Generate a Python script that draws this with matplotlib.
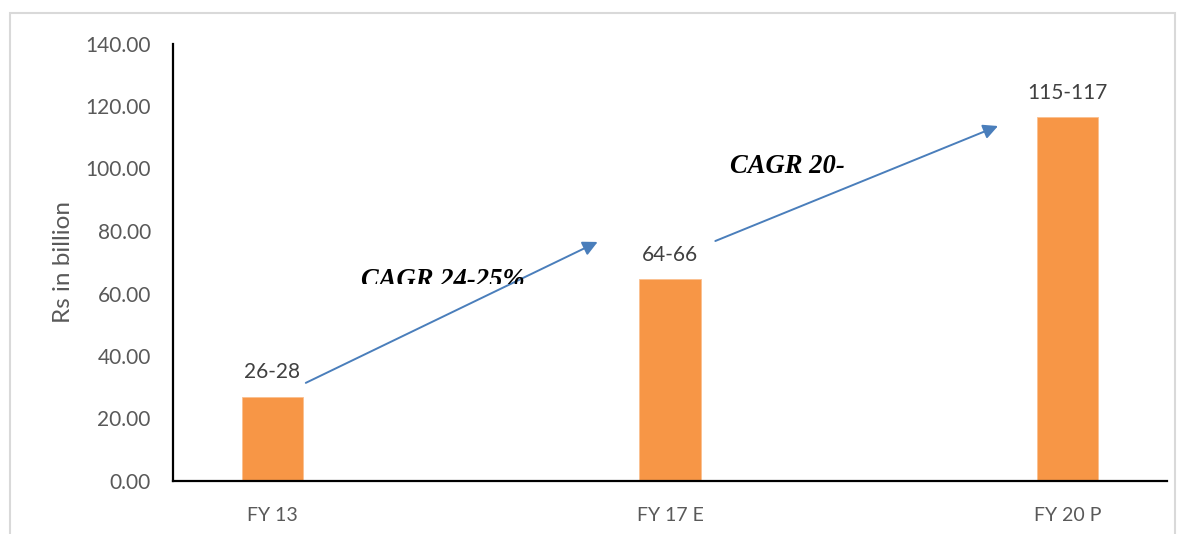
import matplotlib.pyplot as plt
from matplotlib.patches import Rectangle
from matplotlib.transforms import Bbox, TransformedBbox

categories = ['FY 13', 'FY 17 E', 'FY 20 P']
values = [27.0, 64.5, 116.5]
value_labels = ['26-28', '64-66', '115-117']
yticks = [0, 20, 40, 60, 80, 100, 120, 140]

# growth arrows: (start, end) in data units
cagr_texts = ['CAGR 24-25%', 'CAGR 20-']
cagr_arrows = [((0.084, 31.4), (0.818, 76.5)), ((1.114, 76.8), (1.825, 113.6))]
cagr_text_pos = [(0.428, 62.1), (1.295, 98.6)]

label_font = 'Lato'
grey = '#595959'

fig = plt.figure(figsize=(11.82, 5.34), dpi=100)
fig.patches.append(Rectangle((10 / 1182, -0.05), 1165 / 1182, 1.05 - 13 / 534,
                             transform=fig.transFigure, fill=False,
                             edgecolor='#D9D9D9', linewidth=1.5))
ax = fig.add_axes([173 / 1182, 1 - 481 / 534, 994 / 1182, (481 - 43.5) / 534])

x = range(len(categories))
ax.bar(x, values, width=0.155, color='#F79646', edgecolor='#FAC090', linewidth=0.6, zorder=2)

for i, (v, lab) in enumerate(zip(values, value_labels)):
    ax.text(i, v + 4.6, lab, ha='center', va='bottom', fontsize=15,
            color='#404040', family=label_font)

ax.set_xlim(-0.25, 2.25)
ax.set_ylim(0, 140)
ax.set_xticks(list(x))
ax.set_xticklabels(categories, fontsize=14, color=grey, family=label_font)
ax.set_yticks(yticks)
ax.set_yticklabels([f'{t:.2f}' for t in yticks], fontsize=15, color=grey, family=label_font)
ax.tick_params(axis='y', length=0, pad=16)
ax.tick_params(axis='x', length=0, pad=19)
ax.set_ylabel('Rs in billion', fontsize=17.5, color=grey, family=label_font, labelpad=8)

for s in ['top', 'right']:
    ax.spines[s].set_visible(False)
for s in ['left', 'bottom']:
    ax.spines[s].set_linewidth(1.6)
    ax.spines[s].set_color('black')

for (start, end) in cagr_arrows:
    ax.annotate('', xy=end, xytext=start,
                arrowprops=dict(arrowstyle='-|>', color='#4A7EBB', lw=1.4,
                                mutation_scale=22, shrinkA=0, shrinkB=0))

for txt, (tx, ty) in zip(cagr_texts, cagr_text_pos):
    t = ax.text(tx, ty, txt, ha='center', va='baseline', fontsize=19.2,
                fontstyle='italic', fontweight='bold', family='Liberation Serif',
                color='black')
    if txt == 'CAGR 24-25%':
        # the original text box cuts the lower edge of this label
        t.set_clip_box(TransformedBbox(Bbox([[-0.25, 63.2], [2.25, 140]]), ax.transData))
        t.set_clip_on(True)

fig.savefig('out.png', dpi=100)
